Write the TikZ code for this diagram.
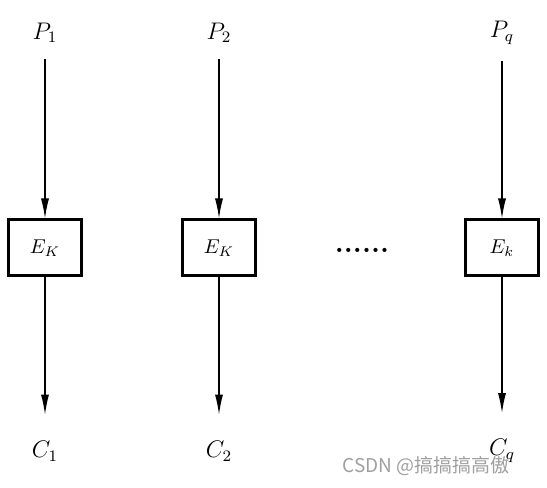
\documentclass[tikz,border=0pt]{standalone}
\usepackage{fontspec}
\newfontfamily\cjkfont{Noto Sans CJK SC}
\usetikzlibrary{arrows.meta}

\begin{document}
\begin{tikzpicture}[
    x=0.5pt, y=0.5pt,
    encbox/.style={draw=black, line width=1.5pt, minimum width=36.5pt, minimum height=28pt, inner sep=0pt},
    lbl/.style={inner sep=2pt, font=\large},
    flow/.style={-{Latex[length=10pt,width=4pt]}, line width=0.6pt},
    wmark/.style={font=\cjkfont\fontsize{9.5}{11}\selectfont, text=gray!75}
]
    \useasboundingbox (0,0) rectangle (547,488);

    % ---- columns (x = 45: first, 219: second, 502: last) ----
    \foreach \x/\n/\k in {45/1/K, 219/2/K, 502/q/k} {
        \node[lbl] (p\n) at (\x,455) {$P_{\n}$};
        \node[encbox] (e\n) at (\x,240) {$E_{\k}$};
        \node[lbl] (c\n) at (\x,37) {$C_{\n}$};
        \draw[flow, shorten <=6pt] (p\n) -- (e\n);
        \draw[flow, shorten >=11pt] (e\n) -- (c\n);
    }

    % ---- gap between the columns ----
    \node[anchor=base] (gap) at (362,235) {\Large\bfseries ......};

    % ---- watermark ----
    \node[wmark] (mark) at (426,22) {CSDN @搞搞搞高傲};
\end{tikzpicture}
\end{document}
